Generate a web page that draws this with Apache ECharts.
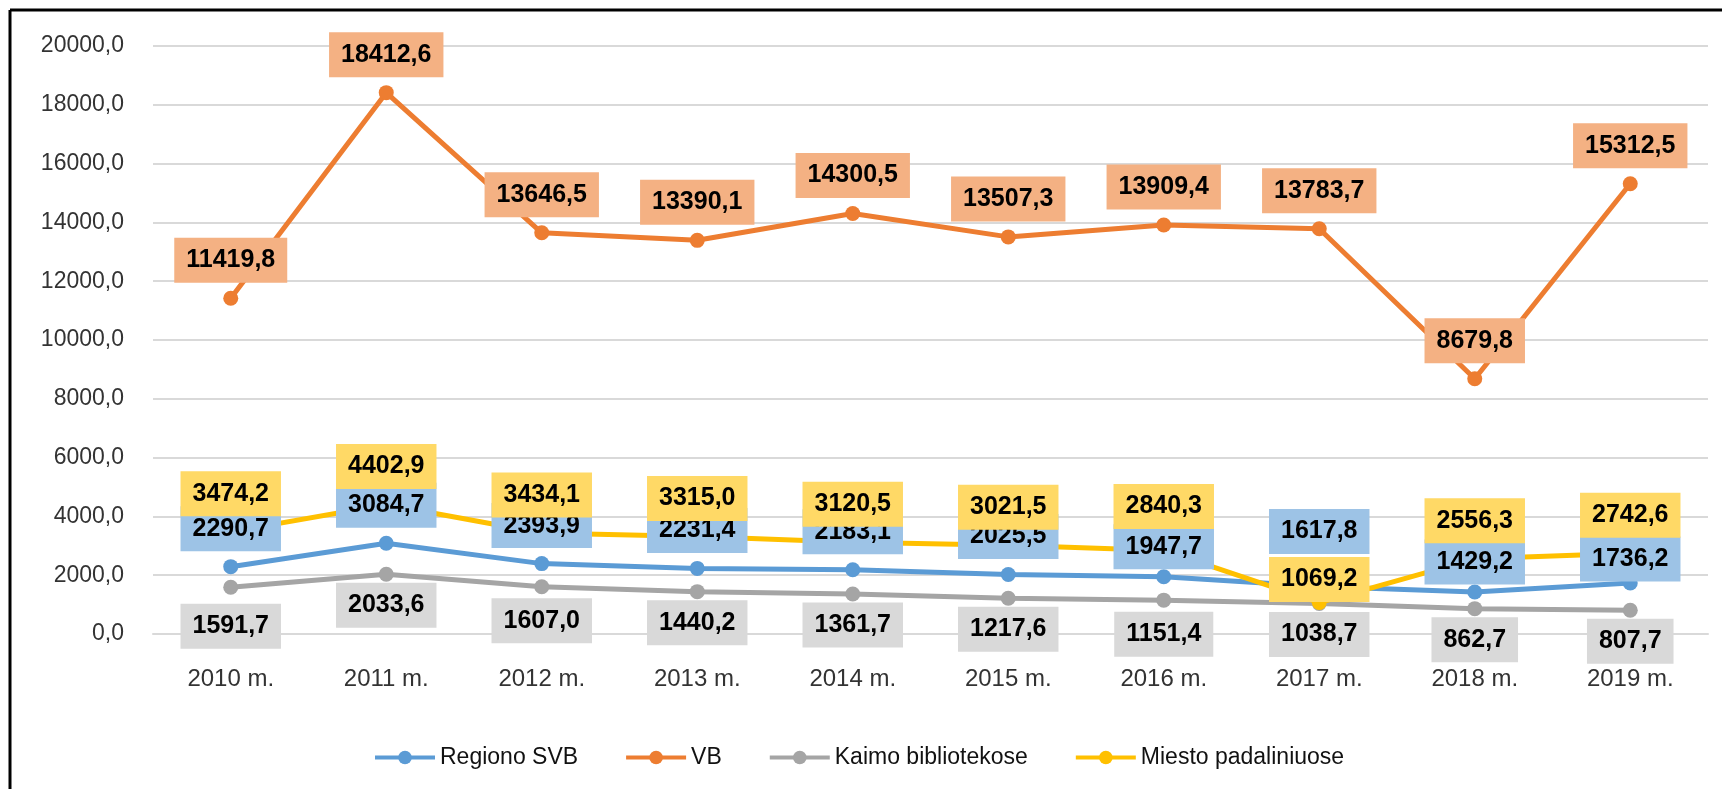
<!DOCTYPE html>
<html>
<head>
<meta charset="utf-8">
<script src="https://cdn.jsdelivr.net/npm/echarts@6/dist/echarts.min.js"></script>
<style>
  html, body { margin: 0; padding: 0; background: #fff; }
  #main { width: 1722px; height: 789px; }
</style>
</head>
<body>
<div id="main"></div>
<script>
var years = ['2010 m.', '2011 m.', '2012 m.', '2013 m.', '2014 m.', '2015 m.', '2016 m.', '2017 m.', '2018 m.', '2019 m.'];
var regionoSVB = [2290.7, 3084.7, 2393.9, 2231.4, 2183.1, 2025.5, 1947.7, 1617.8, 1429.2, 1736.2];
var vb = [11419.8, 18412.6, 13646.5, 13390.1, 14300.5, 13507.3, 13909.4, 13783.7, 8679.8, 15312.5];
var kaimo = [1591.7, 2033.6, 1607.0, 1440.2, 1361.7, 1217.6, 1151.4, 1038.7, 862.7, 807.7];
var miesto = [3474.2, 4402.9, 3434.1, 3315.0, 3120.5, 3021.5, 2840.3, 1069.2, 2556.3, 2742.6];

var yMin = 0, yMax = 20000, yStep = 2000;

// where Excel nudged a label away from its usual spot
var labelShift = {
	'Regiono SVB': { 6: 8, 7: -17, 8: 8, 9: 14 },
	'Miesto padaliniuose': { 6: -6, 7: 15 },
	'Kaimo bibliotekose': { 0: 8, 2: 3, 6: 3 }
};

var FONT = "'Liberation Sans', Arial, sans-serif";

function fmt(v) {
	return v.toFixed(1).replace('.', ',');
}

function makeSeries(name, values, lineColor, boxColor, pos, dist) {
	var shifts = labelShift[name] || {};
	var data = values.map(function(v, i) {
		if (shifts[i] !== undefined) {
			return { value: v, label: { offset: [0, shifts[i]] } };
		}
		return v;
	});
	return {
		name: name,
		type: 'line',
		data: data,
		symbol: 'circle',
		symbolSize: 15,
		color: lineColor,
		lineStyle: { width: 5, color: lineColor },
		itemStyle: { color: lineColor },
		label: {
			show: true,
			position: pos,
			distance: dist,
			formatter: function(p) { return fmt(p.value); },
			fontFamily: FONT,
			fontSize: 25,
			fontWeight: 'bold',
			color: '#000',
			lineHeight: 25,
			backgroundColor: boxColor,
			padding: [10, 12]
		}
	};
}

var myChart = echarts.init(document.getElementById('main'));

var option = {
	backgroundColor: '#fff',
	animation: false,
	textStyle: { fontFamily: FONT },
	grid: { left: 153, right: 14, top: 46, bottom: 155 },
	legend: {
		left: 368,
		top: 741,
		itemWidth: 60,
		itemHeight: 17,
		itemGap: 46,
		lineStyle: { width: 4 },
		textStyle: { fontFamily: FONT, fontSize: 23, color: '#111' },
		data: ['Regiono SVB', 'VB', 'Kaimo bibliotekose', 'Miesto padaliniuose']
	},
	xAxis: {
		type: 'category',
		data: years,
		boundaryGap: true,
		axisLine: { lineStyle: { color: '#d9d9d9', width: 2 } },
		axisTick: { show: false },
		axisLabel: { margin: 33, fontFamily: FONT, fontSize: 24, color: '#333' }
	},
	yAxis: {
		type: 'value',
		min: yMin,
		max: yMax,
		interval: yStep,
		axisLine: { show: false },
		axisTick: { show: false },
		splitLine: { lineStyle: { color: '#d9d9d9', width: 2 } },
		axisLabel: {
			margin: 29,
			fontFamily: FONT,
			fontSize: 23,
			color: '#333',
			formatter: function(v) { return fmt(v); }
		}
	},
	graphic: [
		{ type: 'line', shape: { x1: 10, y1: 10, x2: 1722, y2: 10 }, style: { stroke: '#000', lineWidth: 3 }, z: 100 },
		{ type: 'line', shape: { x1: 10, y1: 10, x2: 10, y2: 789 }, style: { stroke: '#000', lineWidth: 3 }, z: 100 }
	],
	series: [
		makeSeries('Regiono SVB', regionoSVB, '#5B9BD5', '#9DC3E6', 'top', 8),
		makeSeries('VB', vb, '#ED7D31', '#F4B183', 'top', 8),
		makeSeries('Kaimo bibliotekose', kaimo, '#A5A5A5', '#D9D9D9', 'bottom', 1),
		makeSeries('Miesto padaliniuose', miesto, '#FFC000', '#FFD966', 'top', 8)
	]
};

myChart.setOption(option);
</script>
</body>
</html>
